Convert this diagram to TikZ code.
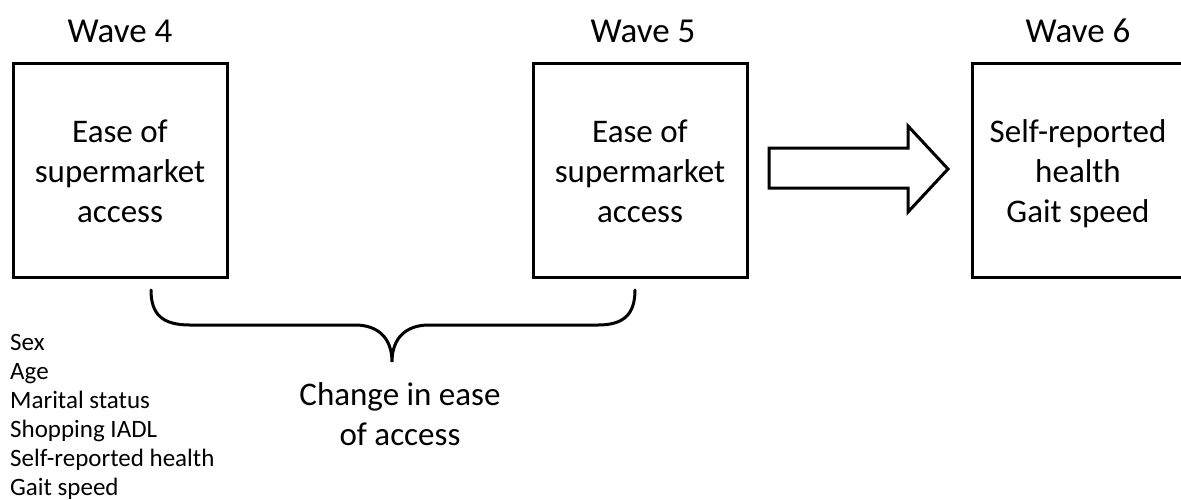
\documentclass[tikz,border=0pt]{standalone}
\usepackage{fontspec}
\setmainfont{Carlito}
\begin{document}
\begin{tikzpicture}[x=1pt,y=-1pt,
  wavebox/.style={draw,line width=3pt,minimum width=214pt,minimum height=214pt,inner sep=0pt},
  boxtext/.style={anchor=base,align=center,inner sep=0pt,font=\fontsize{33}{40}\selectfont},
  wavelabel/.style={anchor=base,font=\fontsize{35}{42}\selectfont},
  thick3/.style={line width=3pt}]
\useasboundingbox (0,0) rectangle (1181,499);
\node[wavebox] (w4) at (120,170) {};
\node[wavebox] (w5) at (640,170) {};
\node[wavebox] (w6) at (1079,170) {};
\node[boxtext] (t4) at (120,222) {Ease of\\supermarket\\access};
\node[boxtext] (t5) at (640,222) {Ease of\\supermarket\\access};
\node[boxtext] (t6) at (1078,222) {Self-reported\\health\\Gait speed};
\node[wavelabel] (l4) at (120,42) {Wave 4};
\node[wavelabel] (l5) at (643,42) {Wave 5};
\node[wavelabel] (l6) at (1078,42) {Wave 6};
\draw[thick3,line join=miter] (769,148) -- (908,148) -- (908,126) -- (948,169) -- (908,212) -- (908,188) -- (769,188) -- cycle;
\draw[thick3,line cap=round] (151,290) .. controls (151,315) and (163,325) .. (190,325) -- (355,325)
  .. controls (378,325) and (392,338) .. (392,362)
  .. controls (392,338) and (406,325) .. (429,325) -- (598,325)
  .. controls (623,325) and (635,315) .. (635,290);
\node[anchor=base,align=center,inner sep=0pt,font=\fontsize{33}{40}\selectfont] (chg) at (400,445) {Change in ease\\of access};
\node[anchor=base west,align=left,inner sep=0pt,font=\fontsize{25}{29}\selectfont] (cov) at (10,495)
  {Sex\\Age\\Marital status\\Shopping IADL\\Self-reported health\\Gait speed};
\end{tikzpicture}
\end{document}
